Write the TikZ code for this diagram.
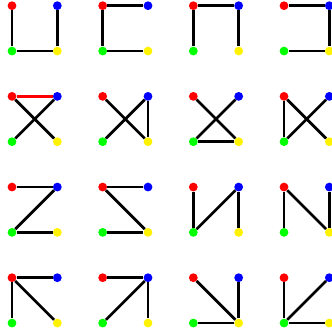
\documentclass[tikz,border=0pt]{standalone}
\begin{document}
\begin{tikzpicture}[x=1pt,y=-1pt,
  dot/.style={circle,inner sep=0pt,minimum size=8.8pt,draw=none},
  edge/.style={line width=2.7pt,black}]
\useasboundingbox (0,0) rectangle (332,335);
\foreach \i in {0,...,3}{
  \foreach \j in {0,...,3}{
    \pgfmathsetmacro\x{12+90.67*\i}
    \pgfmathsetmacro\y{5.7+90.67*\j}
    \node[dot,fill=red]    (r\i\j) at (\x,\y) {};
    \node[dot,fill=blue]   (b\i\j) at (\x+45.33,\y) {};
    \node[dot,fill=green]  (g\i\j) at (\x,\y+45.33) {};
    \node[dot,fill=yellow] (y\i\j) at (\x+45.33,\y+45.33) {};
  }
}
\foreach \i/\j/\a/\b in {
  0/0/r/g, 0/0/g/y, 0/0/y/b,
  1/0/r/b, 1/0/r/g, 1/0/g/y,
  2/0/r/b, 2/0/r/g, 2/0/b/y,
  3/0/r/b, 3/0/b/y, 3/0/y/g,
  0/1/r/y, 0/1/b/g,
  1/1/r/y, 1/1/b/g, 1/1/b/y,
  2/1/r/y, 2/1/b/g, 2/1/g/y,
  3/1/r/g, 3/1/r/y, 3/1/b/g,
  0/2/r/b, 0/2/b/g, 0/2/g/y,
  1/2/r/b, 1/2/r/y, 1/2/g/y,
  2/2/r/g, 2/2/g/b, 2/2/b/y,
  3/2/r/g, 3/2/r/y, 3/2/y/b,
  0/3/r/b, 0/3/r/g, 0/3/r/y,
  1/3/r/b, 1/3/b/g, 1/3/b/y,
  2/3/r/y, 2/3/b/y, 2/3/g/y,
  3/3/r/g, 3/3/g/b, 3/3/g/y}
  \draw[edge] (\a\i\j) -- (\b\i\j);
\draw[edge,red] (r01) -- (b01);
\end{tikzpicture}
\end{document}
